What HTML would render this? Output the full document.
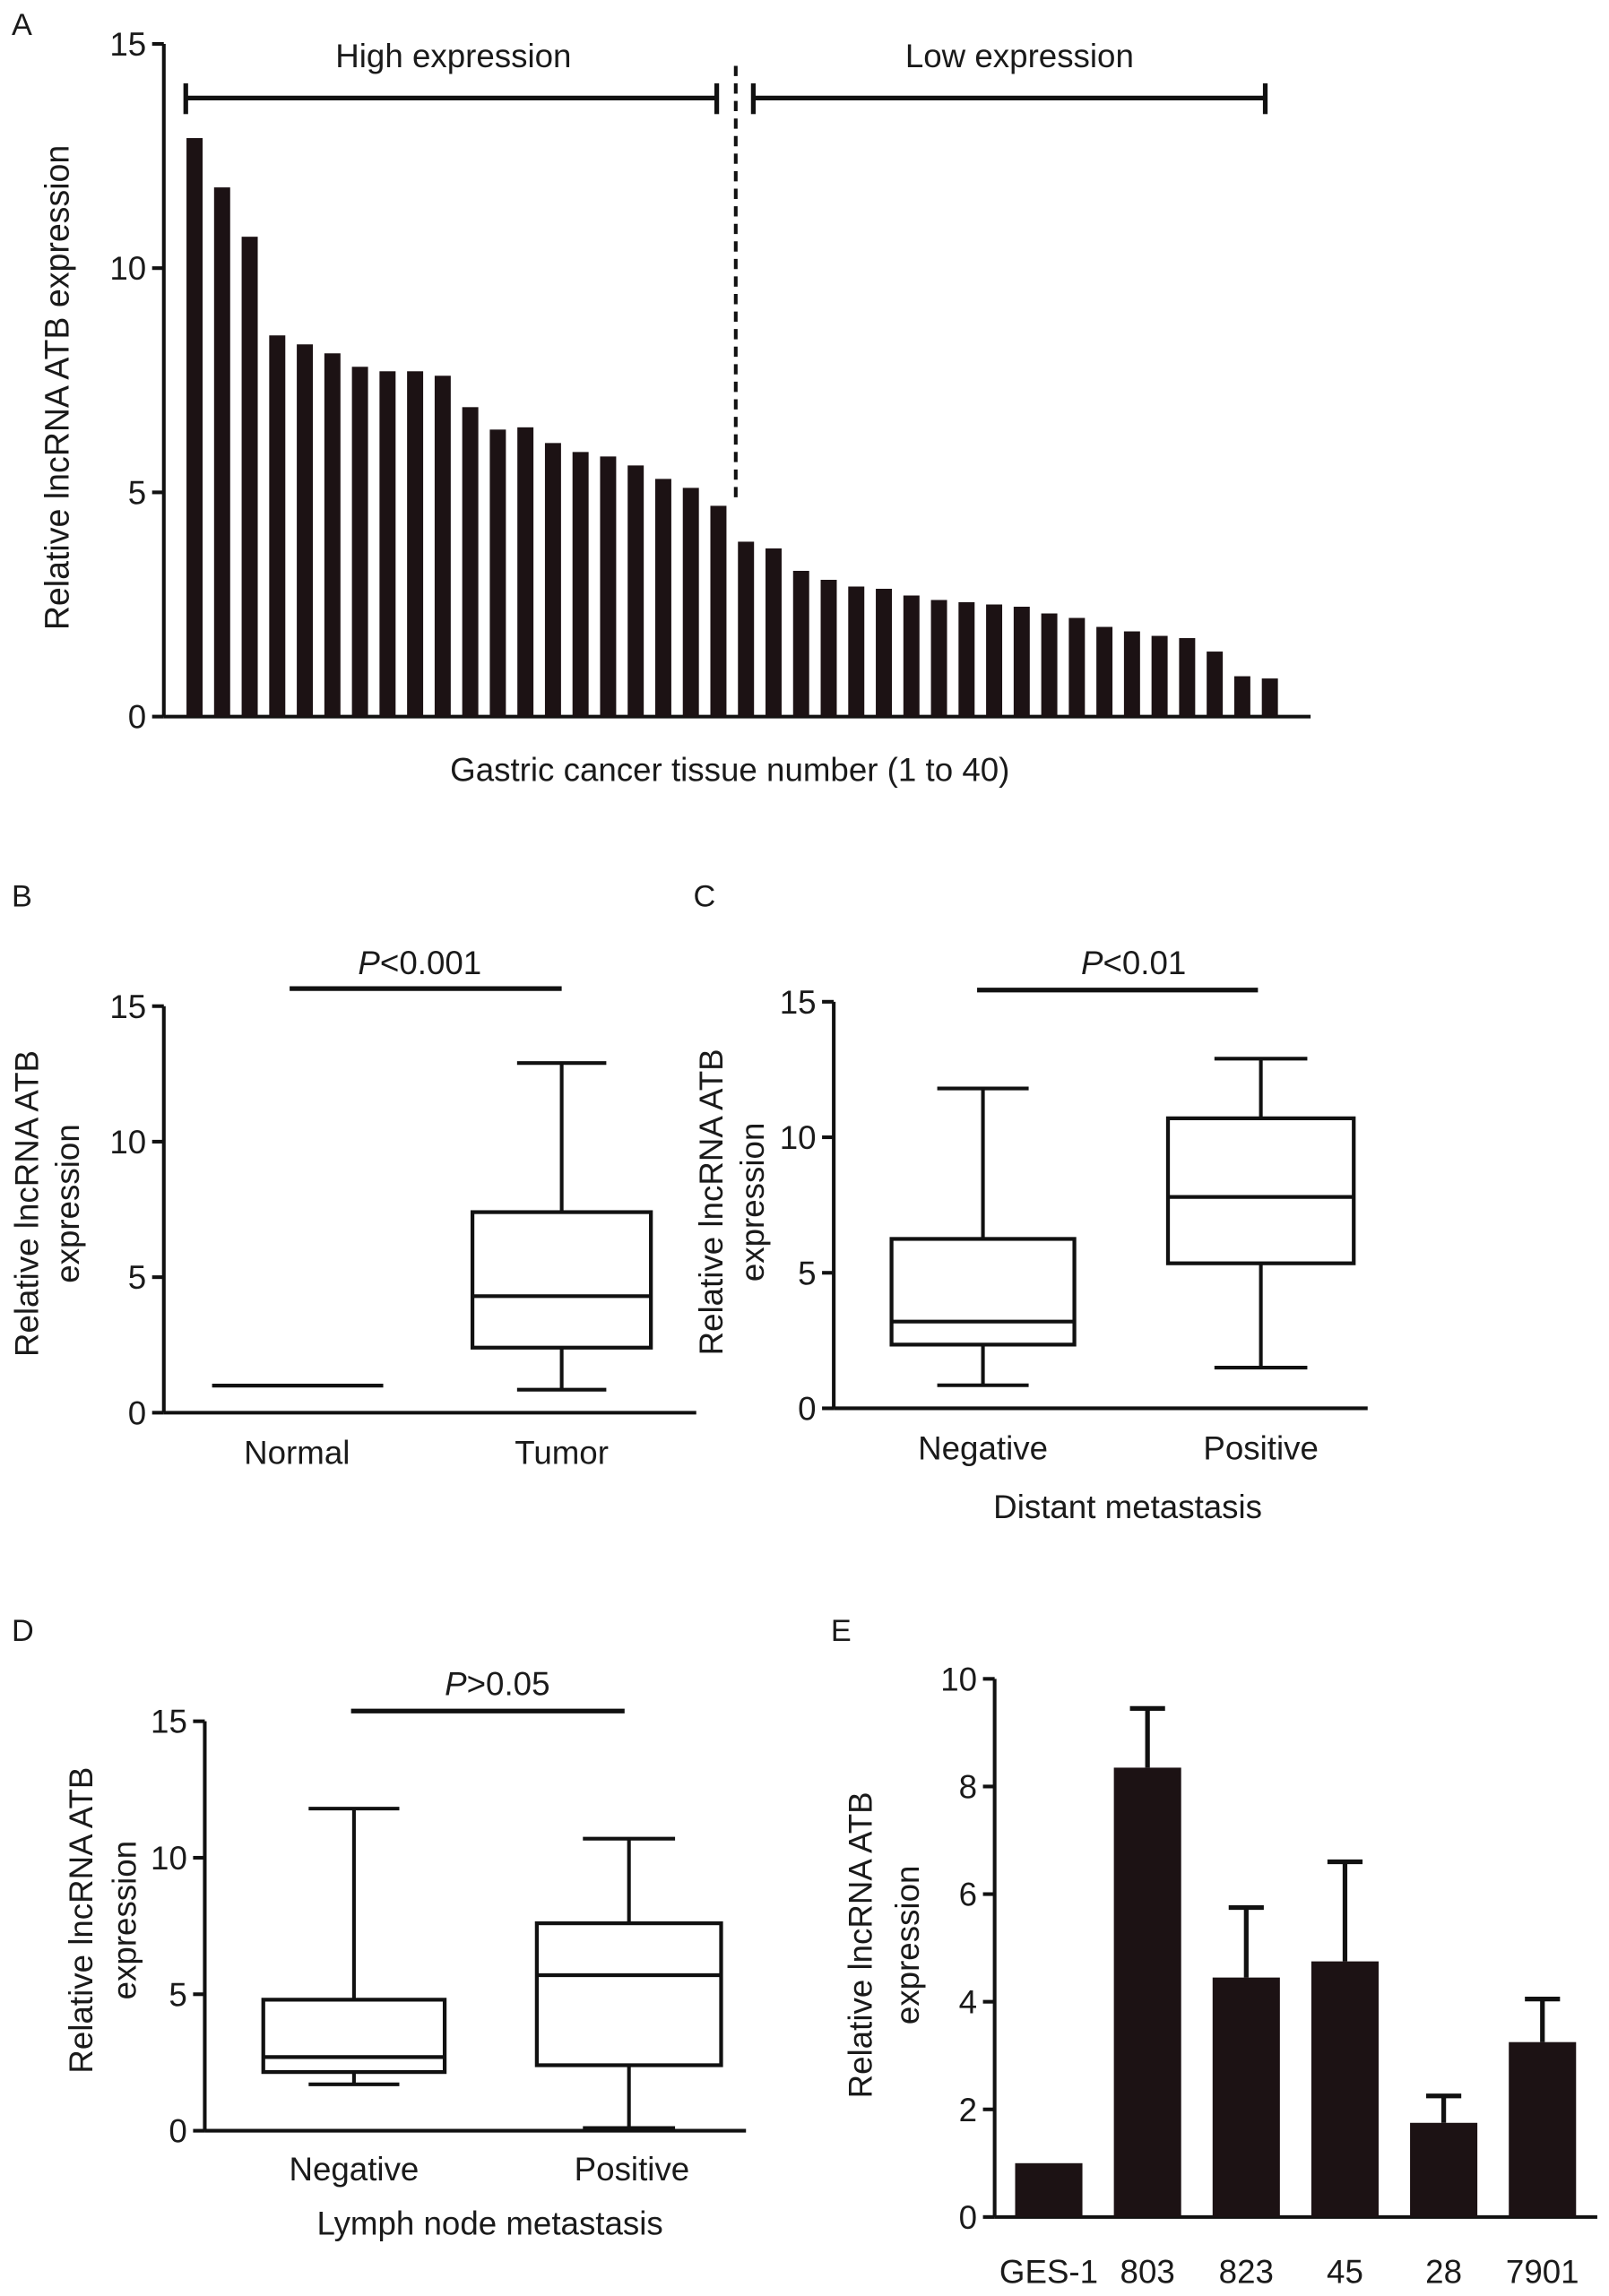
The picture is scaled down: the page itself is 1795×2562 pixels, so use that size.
<!DOCTYPE html>
<html><head><meta charset="utf-8">
<style>
html,body{margin:0;padding:0;background:#fff;}
svg{display:block;}
text{font-family:"Liberation Sans",Arial,sans-serif;fill:#1a1a1a;}
</style></head>
<body>
<svg id="fig" width="1795" height="2562" viewBox="0 0 1100 1570" xmlns="http://www.w3.org/2000/svg"></svg>
<script>
// Panel A data
const aValues = [12.9,11.8,10.7,8.5,8.3,8.1,7.8,7.7,7.7,7.6,6.9,6.4,6.45,6.1,5.9,5.8,5.6,5.3,5.1,4.7,3.9,3.75,3.25,3.05,2.9,2.85,2.7,2.6,2.55,2.5,2.45,2.3,2.2,2.0,1.9,1.8,1.75,1.45,0.9,0.85];
const boxTicks = [0,5,10,15];
// Panel B data
const bCategories = ["Normal","Tumor"];
const bNormalLevel = 1.0;
const bTumorStats = [0.85,2.4,4.3,7.4,12.9]; // min,q1,median,q3,max
// Panel C data
const cCategories = ["Negative","Positive"];
const cNegStats = [0.85,2.35,3.2,6.25,11.8];
const cPosStats = [1.5,5.35,7.8,10.7,12.9];
// Panel D data
const dCategories = ["Negative","Positive"];
const dNegStats = [1.7,2.15,2.7,4.8,11.8];
const dPosStats = [0.1,2.4,5.7,7.6,10.7];
// Panel E data
const eCategories = ["GES-1","803","823","45","28","7901"];
const eValues = [1.0,8.35,4.45,4.75,1.75,3.25];
const eErrTop = [1.0,9.45,5.75,6.6,2.25,4.05];
const eTicks = [0,2,4,6,8,10];

const svg = document.getElementById('fig');
const NS = 'http://www.w3.org/2000/svg';
const FS = 22.5;
function mk(tag, attrs, parent){
  const e = document.createElementNS(NS, tag);
  for (const k in attrs) e.setAttribute(k, attrs[k]);
  (parent||svg).appendChild(e);
  return e;
}
function txt(s, x, y, size, anchor, parent, rot){
  const t = mk('text', {x:x, y:y, 'font-size':size, 'text-anchor':anchor||'middle'}, parent);
  if (rot) t.setAttribute('transform', 'rotate(-90 '+x+' '+y+')');
  t.textContent = s;
  return t;
}
function line(x1,y1,x2,y2,w,parent,dash){
  const l = mk('line',{x1:x1,y1:y1,x2:x2,y2:y2,stroke:'#111','stroke-width':w||2.5}, parent);
  if (dash) l.setAttribute('stroke-dasharray', dash);
  return l;
}
function yAxis(g, x, y0, y1, xEnd, ticks, vmax){
  const sc = v => y0 - (v/vmax)*(y0-y1);
  const ax = line(x, y0, x, y1, 2.5, g);
  
  
  const xa = line(x, y0, xEnd, y0, 2.5, g);
  
  
  ticks.forEach(t=>{
    line(x-8, sc(t), x, sc(t), 2.5, g);
    const lb = txt(String(t), x-12, sc(t)+8, FS, 'end', g);
    
    
  });
  return sc;
}
function box(g, cx, w, st, sc){
  const [mn,q1,md,q3,mx] = st;
  line(cx, sc(mx), cx, sc(q3), 2.5, g);
  line(cx, sc(q1), cx, sc(mn), 2.5, g);
  line(cx-w/4, sc(mx), cx+w/4, sc(mx), 2.5, g);
  line(cx-w/4, sc(mn), cx+w/4, sc(mn), 2.5, g);
  const r = mk('rect',{x:cx-w/2,y:sc(q3),width:w,height:sc(q1)-sc(q3),fill:'none',stroke:'#111','stroke-width':2.6}, g);
  
  
  line(cx-w/2, sc(md), cx+w/2, sc(md), 2.6, g);
}
function pLabel(g, x, y, rest){
  const t = mk('text',{x:x,y:y,'font-size':FS,'text-anchor':'middle'}, g);
  const i = mk('tspan',{'font-style':'italic'}, t); i.textContent='P';
  const r = mk('tspan',{}, t); r.textContent=rest;
  
  
}

// ---------- Panel A ----------
const gA = mk('g',{});


txt('A', 8, 24, 21, 'start', gA);
const scA = yAxis(gA, 112, 490, 30, 896, boxTicks, 15);
const aX = i => 133 + i*18.85;
aValues.forEach((v,i)=>{
  const b = mk('rect',{x:aX(i)-5.5,y:scA(v),width:11,height:490-scA(v),fill:'#1c1214'}, gA);
  
  
});
line(503, 45, 503, 340, 2.5, gA, '7,5');
line(127, 67, 490, 67, 3.2, gA); line(127,57,127,78,3.2,gA); line(490,57,490,78,3.2,gA);
line(515, 67, 865, 67, 3.2, gA); line(515,57,515,78,3.2,gA); line(865,57,865,78,3.2,gA);
txt('High expression', 310, 46, FS, 'middle', gA);
txt('Low expression', 697, 46, FS, 'middle', gA);
const ayt = txt('Relative lncRNA ATB expression', 47, 265, 23, 'middle', gA, true);

const axt = txt('Gastric cancer tissue number (1 to 40)', 499, 534, FS, 'middle', gA);


// ---------- Panel B ----------
const gB = mk('g',{});


txt('B', 8, 620, 21, 'start', gB);
const scB = yAxis(gB, 112, 966, 688, 476, boxTicks, 15);
line(145, scB(bNormalLevel), 262, scB(bNormalLevel), 2.6, gB);
box(gB, 384, 122, bTumorStats, scB);
txt(bCategories[0], 203, 1001, FS, 'middle', gB);
txt(bCategories[1], 384, 1001, FS, 'middle', gB);
line(198, 676, 384, 676, 3.2, gB);
pLabel(gB, 287, 666, '<0.001');
txt('Relative lncRNA ATB', 26, 823, FS, 'middle', gB, true);
txt('expression', 54, 823, FS, 'middle', gB, true);

// ---------- Panel C ----------
const gC = mk('g',{});


txt('C', 474, 620, 21, 'start', gC);
const scC = yAxis(gC, 570, 963, 685, 935, boxTicks, 15);
box(gC, 672, 125, cNegStats, scC);
box(gC, 862, 127, cPosStats, scC);
txt(cCategories[0], 672, 998, FS, 'middle', gC);
txt(cCategories[1], 862, 998, FS, 'middle', gC);
txt('Distant metastasis', 771, 1038, FS, 'middle', gC);
line(668, 677, 860, 677, 3.2, gC);
pLabel(gC, 775, 666, '<0.01');
txt('Relative lncRNA ATB', 494, 822, FS, 'middle', gC, true);
txt('expression', 522, 822, FS, 'middle', gC, true);

// ---------- Panel D ----------
const gD = mk('g',{});


txt('D', 8, 1122, 21, 'start', gD);
const scD = yAxis(gD, 140, 1457, 1177, 510, boxTicks, 15);
box(gD, 242, 124, dNegStats, scD);
box(gD, 430, 126, dPosStats, scD);
txt(dCategories[0], 242, 1491, FS, 'middle', gD);
txt(dCategories[1], 432, 1491, FS, 'middle', gD);
txt('Lymph node metastasis', 335, 1528, FS, 'middle', gD);
line(240, 1170, 427, 1170, 3.2, gD);
pLabel(gD, 340, 1159, '>0.05');
txt('Relative lncRNA ATB', 63, 1313, FS, 'middle', gD, true);
txt('expression', 93, 1313, FS, 'middle', gD, true);

// ---------- Panel E ----------
const gE = mk('g',{});


txt('E', 568, 1122, 21, 'start', gE);
const scE = yAxis(gE, 680, 1516, 1148, 1092, eTicks, 10);
const eX = i => 717 + i*67.5;
eValues.forEach((v,i)=>{
  const cx = eX(i);
  if (eErrTop[i] > v){
    line(cx, scE(eErrTop[i]), cx, scE(v), 3.2, gE);
    line(cx-12, scE(eErrTop[i]), cx+12, scE(eErrTop[i]), 3.2, gE);
  }
  const b = mk('rect',{x:cx-23,y:scE(v),width:46,height:1516-scE(v),fill:'#1c1214'}, gE);
  
  
  txt(eCategories[i], cx, 1561, FS, 'middle', gE);
});
txt('Relative lncRNA ATB', 596, 1330, FS, 'middle', gE, true);
txt('expression', 628, 1330, FS, 'middle', gE, true);
</script>
</body></html>
